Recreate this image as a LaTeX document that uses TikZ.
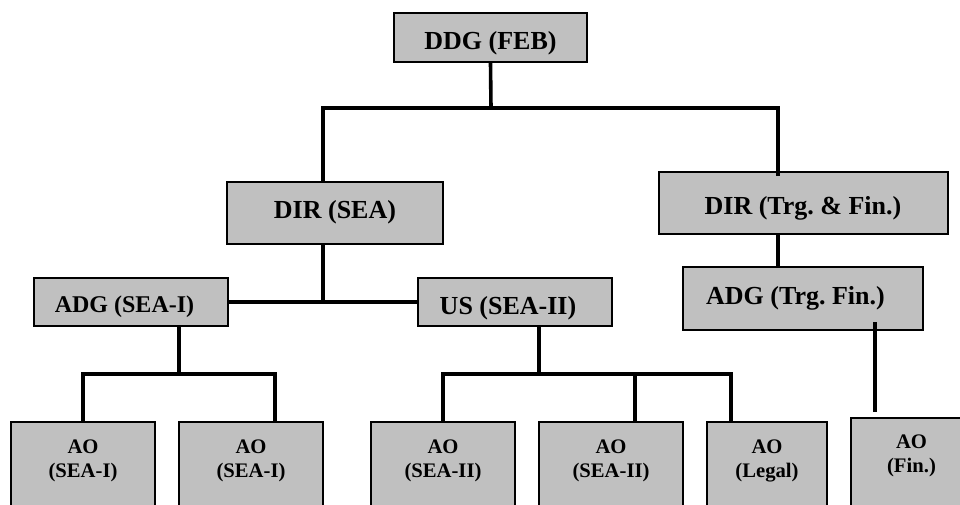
\documentclass[tikz,border=0pt]{standalone}
\usepackage{fontspec}
\setmainfont{Liberation Serif}
\usetikzlibrary{calc}
\definecolor{boxgray}{HTML}{C0C0C0}
\frenchspacing
\tikzset{
  orgbox/.style={draw=black, fill=boxgray, line width=1.5pt, inner sep=0pt},
  conn/.style={draw=black, line width=2.7pt},
  bigtxt/.style={font=\bfseries\fontsize{19.5pt}{23pt}\selectfont, anchor=base, inner sep=0pt},
  midtxt/.style={font=\bfseries\fontsize{18pt}{22pt}\selectfont, anchor=base, inner sep=0pt},
  aotxt/.style={font=\bfseries\fontsize{15.5pt}{18pt}\selectfont, anchor=base, inner sep=0pt, align=center}
}
\begin{document}
\begin{tikzpicture}[x=0.75pt, y=-0.75pt]
\useasboundingbox (0,0) rectangle (960,504);
\clip (0,0) rectangle (960,504);
% boxes
\node[orgbox, minimum width=144.75pt, minimum height=36.75pt] (ddg) at (490.5,37.5) {};
\node[orgbox, minimum width=162pt, minimum height=46.5pt] (dsea) at (335,213) {};
\node[orgbox, minimum width=216.75pt, minimum height=46.5pt] (dtrg) at (803.5,203) {};
\node[orgbox, minimum width=145.5pt, minimum height=36pt] (adg1) at (131,302) {};
\node[orgbox, minimum width=145.5pt, minimum height=36pt] (us) at (515,302) {};
\node[orgbox, minimum width=180pt, minimum height=47.25pt] (adgt) at (803,298.5) {};
\node[orgbox, minimum width=108pt, minimum height=66pt] (ao1) at (83,466) {};
\node[orgbox, minimum width=108pt, minimum height=66pt] (ao2) at (251,466) {};
\node[orgbox, minimum width=108pt, minimum height=66pt] (ao3) at (443,466) {};
\node[orgbox, minimum width=108pt, minimum height=66pt] (ao4) at (611,466) {};
\node[orgbox, minimum width=90pt, minimum height=66pt] (ao5) at (767,466) {};
\node[orgbox, minimum width=93pt, minimum height=69pt] (aofin) at (913,464) {};
% texts
\node[bigtxt] (tddg) at (490.5,49) {DDG (FEB)};
\node[bigtxt] (tdsea) at (335,218) {DIR (SEA)};
\node[bigtxt] (tdtrg) at (803,214) {DIR (Trg. \& Fin.)};
\node[midtxt] (tadg1) at (124.5,312) {ADG (SEA-I)};
\node[bigtxt] (tus) at (508,314) {US (SEA-II)};
\node[bigtxt] (tadgt) at (795.5,304) {ADG (Trg. Fin.)};
\node[aotxt] (tao1) at (83,477) {AO\\(SEA-I)};
\node[aotxt] (tao2) at (251,477) {AO\\(SEA-I)};
\node[aotxt] (tao3) at (443,477) {AO\\(SEA-II)};
\node[aotxt] (tao4) at (611,477) {AO\\(SEA-II)};
\node[aotxt] (tao5) at (767,477) {AO\\(Legal)};
\node[aotxt] (taofin) at (911.5,472) {AO\\(Fin.)};
% junction coordinates
\coordinate (j1) at (491,108);
\coordinate (j2) at (179,374);
\coordinate (j3) at (539,374);
\coordinate (fa) at (875,322);
\coordinate (fb) at (875,412);
% connectors
\draw[conn] (ddg.south) -- (j1);
\draw[conn] (323,0 |- dsea.north) |- (j1) -| ($(778,0 |- dtrg.north)+(0,5)$);
\draw[conn] (778,0 |- dtrg.south) -- (778,0 |- adgt.north);
\draw[conn] (323,0 |- dsea.south) -- (323,0 |- adg1.east);
\draw[conn] (adg1.east) -- (us.west);
\draw[conn] (179,0 |- adg1.south) -- (j2);
\draw[conn] (ao1.north) |- (j2) -| (275,0 |- ao2.north);
\draw[conn] (539,0 |- us.south) -- (j3);
\draw[conn] (ao3.north) |- (j3) -| (731,0 |- ao5.north);
\draw[conn] (635,0 |- j3) -- (635,0 |- ao4.north);
\draw[conn] (fa) -- (fb);
\end{tikzpicture}
\end{document}
